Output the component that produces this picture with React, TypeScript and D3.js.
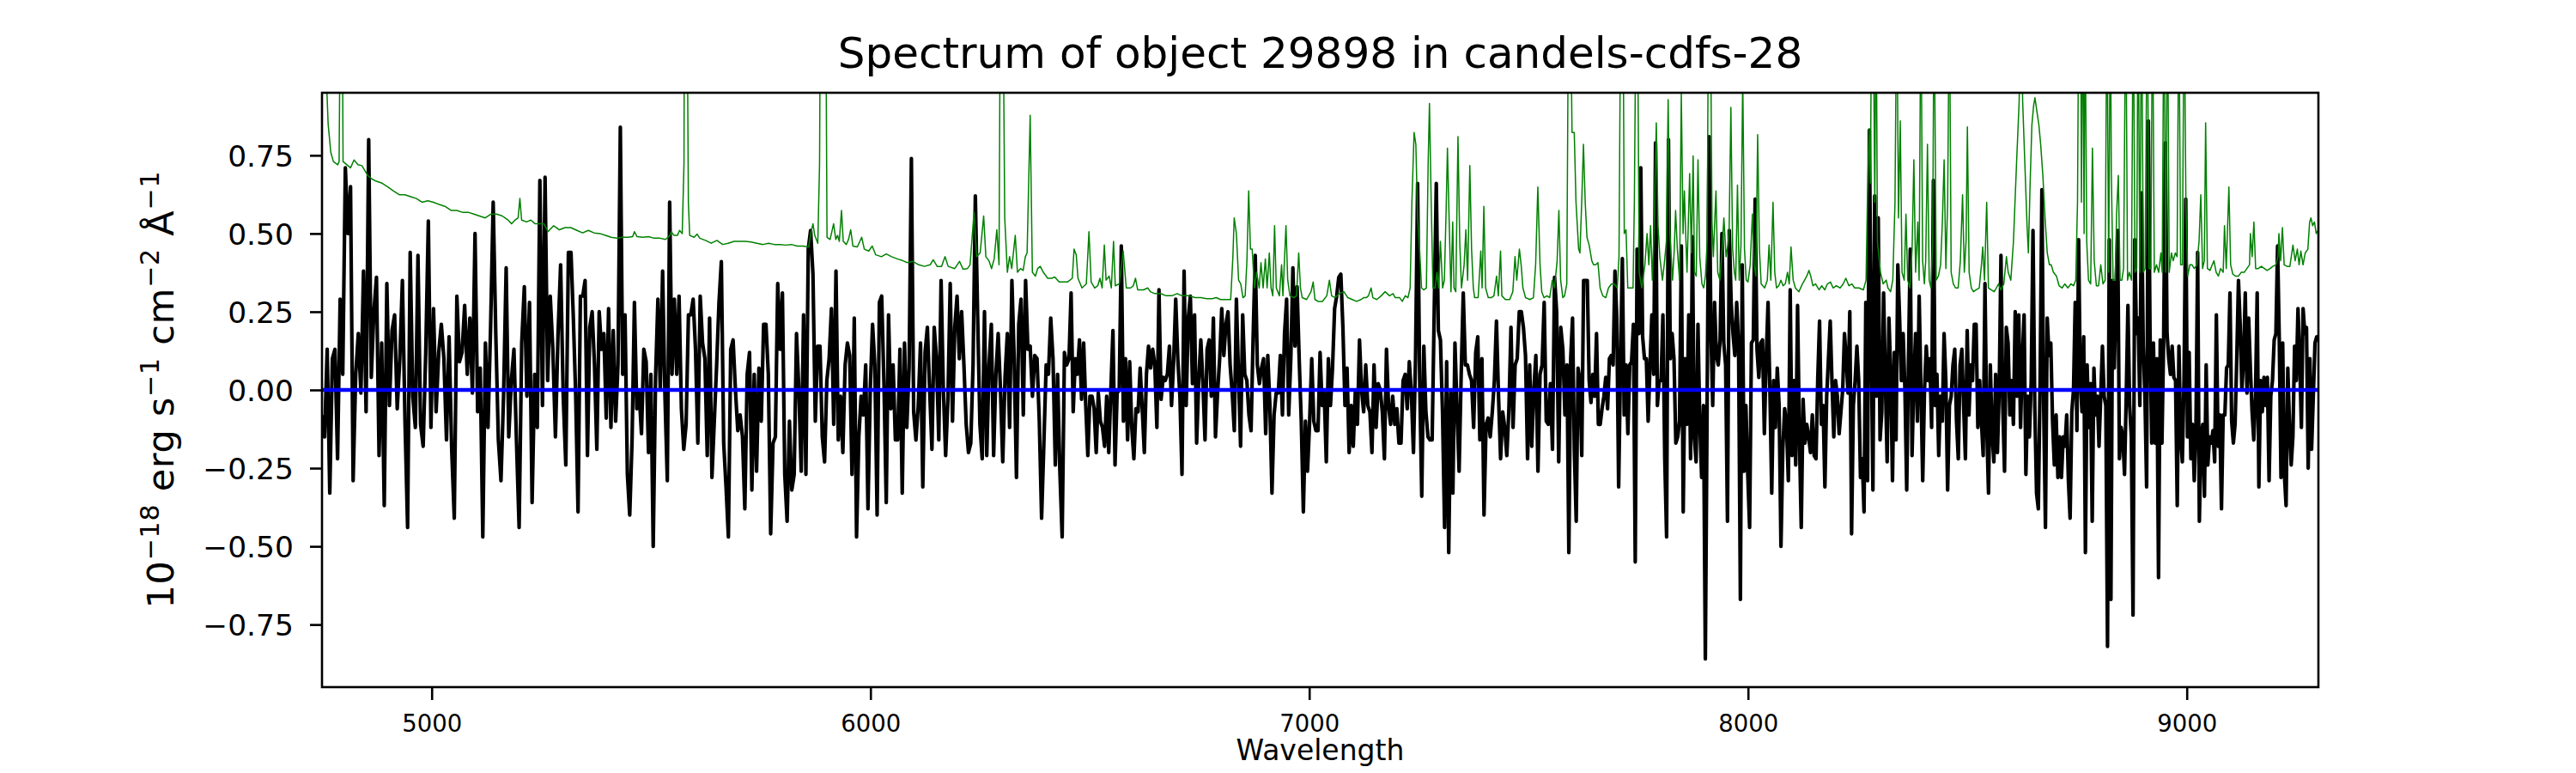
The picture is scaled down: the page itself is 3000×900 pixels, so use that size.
import { useEffect, useRef } from "react";
import * as d3 from "d3";

const TITLE = "Spectrum of object 29898 in candels-cdfs-28";
const X_LABEL = "Wavelength";
const X_TICKS = [5000, 6000, 7000, 8000, 9000];
const Y_TICKS = [-0.75, -0.5, -0.25, 0, 0.25, 0.5, 0.75];
const WAVE_RANGE = [4750, 9300];
const FLUX_RANGE = [-0.95, 0.95];

const SEGMENT_EDGES = [4750, 5317.5, 5885, 6452.5, 7020, 7587.5, 8155, 8722.5, 9300];

const flux1 = [
  -0.08, -0.15, 0.13, -0.33, 0.1, 0.13, -0.22, 0.29, 0.05, 0.71, 0.5, 0.65, -0.29, 0.05, 0.18, -0.01, 0.38, -0.07,
  0.8, 0.04, 0.25, 0.36, -0.21, 0.15, -0.37, 0.34, -0.05, 0.19, 0.24, -0.06, 0.1, 0.35, -0.1, -0.44, 0.44, -0.02,
  -0.12, 0.43, -0.11, -0.18, 0.12, 0.54, -0.12, 0.26, -0.07, 0.12, 0.21, 0.1, -0.16, 0.17, -0.19, -0.41, 0.3, 0.09,
  0.12, 0.27, 0.05, 0.23, -0.01, 0.5, -0.07, 0.07, -0.47, 0.15, -0.12, 0.2, 0.6, 0.18, -0.16, -0.29, -0.02, 0.39,
  -0.15, 0.03, 0.13, -0.17, -0.44, 0.15, 0.33, -0.02, 0.28, -0.36, 0.05, -0.12, 0.67, -0.05, 0.68, 0.03, 0.3, 0.13,
  -0.15, 0.18, 0.4, -0.02, -0.24, 0.44,
];
const flux2 = [
  0.44, 0.23, -0.02, -0.39, 0.3, 0.3, 0.35, -0.21, 0.2, 0.25, 0.08, -0.19, 0.25, 0.13, 0.18, -0.09, 0.26, -0.12,
  0.19, -0.1, 0.08, 0.84, 0.05, 0.24, -0.27, -0.4, -0.16, 0.28, -0.06, -0.01, -0.14, 0.13, 0.09, -0.2, 0.05, -0.5,
  0.04, 0.29, 0.0, 0.38, -0.02, -0.29, 0.6, 0.05, 0.29, 0.05, 0.3, -0.06, -0.19, -0.11, 0.24, 0.24, 0.29, 0.13,
  -0.17, 0.3, 0.15, 0.1, -0.21, 0.23, -0.28, -0.1, 0.08, 0.28, 0.41, -0.17, -0.31, -0.47, 0.13, 0.16, 0.0, -0.13,
  -0.08, -0.15, -0.38, 0.05, 0.12, -0.32, 0.05, -0.26, 0.07, -0.1, 0.21, 0.21, 0.05, -0.46, -0.17, -0.15, 0.34, 0.13,
  0.31, -0.27, -0.42, -0.1, -0.32, -0.27, 0.18, 0.0, -0.26, 0.24, -0.27, 0.45, 0.51, 0.37, -0.1, 0.14,
];
const flux3 = [
  0.14, -0.15, -0.23, 0.03, 0.1, 0.26, -0.11, 0.38, -0.16, -0.02, -0.2, 0.08, 0.15, 0.11, -0.27, 0.23, -0.47, -0.15,
  -0.02, -0.08, 0.08, -0.38, 0.0, 0.21, 0.08, -0.4, 0.28, 0.3, 0.02, -0.36, 0.24, -0.06, 0.08, -0.16, -0.16, 0.13,
  -0.33, 0.15, -0.12, 0.07, 0.74, -0.07, -0.16, -0.05, 0.15, -0.31, 0.12, 0.2, 0.0, -0.19, 0.2, 0.1, -0.16, 0.35,
  0.0, -0.21, -0.03, 0.34, -0.1, 0.2, 0.3, 0.1, 0.25, 0.08, -0.11, -0.2, -0.17, 0.08, 0.62, 0.24, -0.11, -0.22, 0.25,
  -0.21, 0.08, 0.21, -0.21, 0.05, 0.18, 0.0, -0.23, 0.04, 0.18, -0.12, 0.35, 0.1, -0.28, 0.21, 0.29, -0.08, 0.35,
  0.13, 0.14, -0.02, 0.11, 0.1, -0.1, -0.41, -0.17, 0.08, 0.05, 0.23, 0.1, -0.24, 0.05, -0.26, -0.47, 0.12, 0.08,
];
const flux4 = [
  0.1, 0.31, -0.07, 0.1, 0.05, 0.16, -0.03, 0.15, -0.05, -0.21, -0.02, -0.02, -0.06, -0.2, -0.01, -0.1, -0.12, -0.18,
  -0.02, -0.2, 0.0, 0.19, -0.24, -0.01, 0.0, 0.46, -0.1, 0.1, -0.16, 0.09, -0.12, -0.22, -0.06, -0.07, 0.07, -0.06,
  -0.2, 0.05, 0.14, 0.07, 0.13, 0.08, -0.12, 0.32, -0.03, 0.04, 0.03, 0.05, 0.14, -0.05, 0.09, 0.29, 0.1, -0.02,
  -0.27, 0.38, -0.05, 0.23, 0.3, 0.02, 0.24, -0.17, 0.03, 0.16, 0.02, -0.16, 0.13, 0.16, -0.02, 0.23, -0.15, -0.01,
  0.1, 0.26, 0.11, 0.21, 0.25, 0.08, -0.01, -0.13, 0.29, 0.05, -0.18, 0.24, 0.05, 0.03, -0.08, -0.13, 0.17, 0.43,
  0.08, 0.02, 0.07, 0.1, -0.14, 0.11, -0.05, -0.33, -0.08, -0.01, -0.01, 0.11, -0.08, 0.18, 0.29, -0.08, 0.1, 0.39,
  0.14, 0.33, 0.1, -0.1, -0.39, -0.1, -0.26, -0.1, 0.1, -0.1, -0.13,
];
const flux5 = [
  -0.13, 0.12, -0.05, -0.01, -0.23, 0.1, -0.05, 0.07, 0.26, 0.3, 0.36, 0.37, 0.2, -0.05, 0.07, -0.2, -0.05, -0.18,
  0.0, -0.11, 0.16, 0.0, -0.07, 0.08, -0.05, -0.07, -0.2, 0.08, -0.12, 0.02, 0.0, -0.07, -0.22, 0.13, -0.05, -0.11,
  -0.02, -0.11, -0.06, -0.17, -0.17, 0.03, 0.05, -0.06, 0.09, -0.01, -0.2, 0.1, 0.66, 0.03, -0.34, 0.14, -0.07,
  -0.15, -0.16, -0.16, 0.25, 0.66, 0.19, 0.16, -0.07, -0.44, 0.09, -0.52, -0.01, -0.33, 0.15, -0.06, -0.26, 0.05,
  0.31, 0.08, 0.08, 0.05, 0.03, -0.12, 0.12, 0.17, -0.16, 0.1, -0.4, -0.11, -0.09, -0.15, -0.07, 0.03, 0.22, -0.02,
  -0.22, -0.07, -0.12, -0.21, -0.06, 0.2, -0.12, 0.08, 0.1, 0.25, 0.25, 0.2, 0.11, -0.22, 0.08, -0.18, 0.0, 0.11,
  -0.26, 0.05, 0.08, 0.28, -0.1, -0.11, 0.02, -0.19, 0.36, 0.25, -0.23, 0.2, 0.13, -0.08,
];
const flux6 = [
  0.08, -0.52, 0.1, 0.23, -0.2, -0.42, 0.07, 0.03, -0.21, 0.35, 0.35, 0.35, 0.03, -0.04, 0.05, -0.02, 0.18, -0.11,
  -0.11, -0.06, -0.02, 0.04, -0.06, 0.1, 0.11, 0.08, 0.38, 0.23, -0.31, 0.08, 0.42, -0.08, 0.08, -0.14, 0.08, 0.09,
  0.21, -0.55, 0.45, 0.18, 0.71, 0.17, 0.1, 0.1, -0.1, 0.08, 0.24, 0.05, 0.79, -0.05, 0.03, 0.03, 0.24, -0.22, -0.47,
  0.8, 0.1, 0.18, 0.1, -0.17, -0.15, -0.1, 0.46, -0.39, 0.1, -0.11, 0.24, -0.22, 0.49, -0.15, -0.23, 0.21, -0.11,
  -0.28, -0.05, -0.86, -0.02, 0.81, 0.2, -0.05, 0.28, 0.11, 0.08, 0.16, 0.5, 0.15, 0.08, -0.42, 0.51, 0.28, 0.18,
  0.11, 0.28, 0.15, -0.67, 0.4, -0.26, -0.05, -0.27, -0.44, 0.15, 0.16, 0.61, 0.13, 0.04, 0.15, 0.16, -0.14, 0.1,
  0.28, 0.0, -0.33, 0.03, -0.12, 0.07, -0.05, -0.5, -0.19, -0.06, -0.11, -0.29, 0.32, -0.21, 0.03, -0.24, 0.27,
  -0.15, -0.44, -0.03, -0.17, -0.11, -0.15, -0.2, -0.08, -0.21,
];
const flux7 = [
  -0.22, 0.04, 0.22, -0.11, -0.05, -0.31, -0.02, 0.1, 0.22, 0.02, -0.15, 0.03, -0.02, -0.14, -0.07, 0.0, 0.18, 0.1,
  -0.01, 0.25, -0.46, -0.05, 0.03, 0.14, 0.03, -0.28, -0.22, -0.39, 0.28, -0.29, 0.83, 0.19, -0.32, 0.62, -0.02,
  0.55, -0.16, -0.07, 0.31, 0.03, -0.23, 0.23, 0.05, -0.29, 0.12, -0.16, 0.4, 0.23, 0.03, 0.18, 0.0, -0.32, 0.1,
  0.45, -0.21, 0.03, 0.18, -0.1, 0.3, 0.0, -0.29, 0.0, 0.14, 0.03, 0.1, -0.12, 0.67, -0.05, 0.05, -0.21, -0.02, -0.1,
  0.18, 0.03, -0.32, -0.05, -0.02, 0.08, 0.13, -0.1, -0.22, 0.08, 0.13, -0.05, -0.22, 0.19, -0.08, 0.08, 0.03, 0.21,
  0.21, -0.12, 0.03, -0.1, -0.21, 0.34, -0.12, -0.33, 0.08, -0.14, -0.23, 0.05, -0.2, 0.0, 0.43, -0.05, -0.26, 0.2,
  0.15, -0.08, 0.03, -0.11, 0.25, -0.02, 0.24, -0.12, 0.1, 0.24, -0.27, -0.02, -0.15, 0.03, 0.51, -0.05, -0.33,
  -0.38, 0.03, 0.64, -0.05, -0.44, 0.23, 0.11, 0.15, -0.1, -0.24, -0.08, -0.28, -0.15, -0.28, -0.15,
];
const flux8 = [
  -0.18, -0.08, -0.29, -0.41, -0.07, 0.0, 0.28, -0.13, 0.48, 0.03, -0.07, 0.17, -0.52, 0.08, -0.12, 0.02, -0.42,
  0.07, -0.08, -0.02, -0.18, -0.02, 0.14, -0.02, -0.05, -0.82, 0.48, -0.67, 0.35, 0.07, 0.33, 0.51, -0.22, -0.12,
  -0.15, -0.27, -0.02, 0.27, -0.05, -0.15, -0.72, 0.48, 0.18, 0.23, -0.05, 0.63, 0.14, -0.02, -0.31, 0.86, 0.18,
  -0.17, 0.15, -0.17, 0.1, -0.6, 0.16, -0.17, 0.16, 0.79, 0.18, 0.1, 0.05, 0.14, 0.04, 0.03, -0.37, 0.14, -0.15,
  -0.23, 0.04, 0.61, -0.15, 0.12, -0.22, -0.11, -0.29, -0.12, 0.44, -0.42, -0.15, -0.11, -0.34, 0.08, -0.24, -0.15,
  -0.17, -0.13, -0.23, 0.24, -0.18, -0.08, -0.38, -0.08, -0.08, 0.07, 0.08, 0.31, -0.1, -0.17, -0.11, 0.1, 0.35,
  0.21, 0.0, 0.1, 0.31, -0.01, 0.23, 0.07, -0.07, -0.16, -0.02, 0.31, -0.31, 0.03, -0.07, 0.04, -0.05, 0.04, -0.29,
  -0.02, 0.03, 0.16, 0.18, 0.46, 0.16, -0.28, 0.15, -0.27, -0.37, 0.07, -0.11, -0.24, -0.15, 0.14, 0.03, 0.26, 0.1,
  -0.12, 0.26, 0.18, 0.2, -0.25, 0.1, -0.19, -0.02, 0.15, 0.17, 0.17,
];
const FLUX_SEGMENTS = [flux1, flux2, flux3, flux4, flux5, flux6, flux7, flux8];

// noise spectrum: [wavelength, value]; sky lines run off the top
const NOISE: [number, number][] = [
  [4750, 1.3], [4760, 1.0], [4764, 0.85], [4770, 0.76], [4776, 0.73], [4786, 0.72], [4789, 0.73], [4792, 1.3],
  [4796, 1.3], [4798, 0.73], [4809, 0.717], [4815, 0.71], [4823, 0.735], [4832, 0.72], [4841, 0.717], [4854, 0.686],
  [4864, 0.674], [4874, 0.667], [4887, 0.661], [4900, 0.649], [4913, 0.636], [4926, 0.624], [4939, 0.624],
  [4952, 0.618], [4965, 0.612], [4978, 0.6], [4991, 0.605], [5004, 0.6], [5017, 0.593], [5030, 0.587], [5044, 0.574],
  [5057, 0.574], [5070, 0.568], [5083, 0.568], [5096, 0.562], [5109, 0.556], [5122, 0.55], [5135, 0.562],
  [5148, 0.562], [5161, 0.556], [5174, 0.543], [5182, 0.531], [5190, 0.543], [5197, 0.55], [5201, 0.612],
  [5205, 0.543], [5216, 0.537], [5226, 0.543], [5236, 0.531], [5246, 0.531], [5256, 0.531], [5265, 0.506],
  [5278, 0.525], [5291, 0.512], [5304, 0.519],
  [5317, 0.519], [5331, 0.51], [5344, 0.502], [5357, 0.51], [5370, 0.502], [5383, 0.5], [5396, 0.494], [5409, 0.488],
  [5422, 0.485], [5435, 0.488], [5448, 0.488], [5458, 0.49], [5462, 0.506], [5468, 0.49], [5481, 0.488],
  [5494, 0.49], [5507, 0.485], [5520, 0.485], [5533, 0.481], [5543, 0.494], [5546, 0.506], [5552, 0.494],
  [5560, 0.494], [5565, 0.51], [5571, 0.5], [5575, 0.723], [5576, 1.3], [5582, 1.3], [5585, 0.6], [5588, 0.494],
  [5598, 0.488], [5605, 0.498], [5611, 0.485], [5624, 0.478], [5637, 0.469], [5650, 0.478], [5663, 0.465],
  [5676, 0.469], [5689, 0.475], [5702, 0.475], [5715, 0.475], [5728, 0.473], [5741, 0.469], [5755, 0.465],
  [5768, 0.469], [5781, 0.465], [5794, 0.465], [5807, 0.463], [5820, 0.465], [5833, 0.46], [5846, 0.46],
  [5859, 0.457], [5864, 0.5], [5869, 0.531], [5873, 0.494], [5880, 0.469], [5884, 0.723], [5886, 1.3], [5891, 1.3],
  [5898, 1.3], [5901, 0.488], [5908, 0.481], [5916, 0.531], [5921, 0.481], [5925, 0.494], [5929, 0.475],
  [5934, 0.574], [5938, 0.475], [5945, 0.465], [5950, 0.481], [5955, 0.512], [5960, 0.46], [5970, 0.457],
  [5980, 0.488], [5986, 0.45], [5996, 0.444], [6004, 0.46], [6012, 0.432], [6025, 0.426], [6036, 0.435],
  [6048, 0.426], [6061, 0.419], [6074, 0.413], [6084, 0.407], [6097, 0.411], [6110, 0.4], [6123, 0.395], [6136, 0.4],
  [6143, 0.416], [6152, 0.395], [6162, 0.395], [6170, 0.426], [6177, 0.395], [6192, 0.388], [6203, 0.411],
  [6211, 0.386], [6221, 0.388], [6227, 0.4], [6236, 0.568], [6242, 0.426], [6250, 0.438], [6258, 0.556],
  [6263, 0.426], [6270, 0.413], [6276, 0.388], [6282, 0.419], [6288, 0.512], [6293, 0.4], [6296, 1.3], [6302, 1.3],
  [6306, 0.55], [6312, 0.376], [6317, 0.426], [6322, 0.388], [6330, 0.494], [6335, 0.376], [6342, 0.388],
  [6348, 0.382], [6353, 0.426], [6357, 0.438], [6364, 0.878], [6369, 0.376], [6376, 0.364], [6381, 0.388],
  [6387, 0.395], [6394, 0.376], [6404, 0.357], [6413, 0.357], [6420, 0.361], [6430, 0.345], [6439, 0.345],
  [6449, 0.345],
  [6460, 0.357], [6464, 0.45], [6469, 0.432], [6473, 0.357], [6482, 0.326], [6492, 0.339], [6498, 0.506],
  [6503, 0.345], [6511, 0.326], [6518, 0.333], [6523, 0.357], [6528, 0.326], [6533, 0.463], [6537, 0.351],
  [6544, 0.364], [6549, 0.326], [6554, 0.475], [6558, 0.333], [6567, 0.339], [6576, 0.444], [6583, 0.326],
  [6593, 0.326], [6599, 0.333], [6604, 0.357], [6609, 0.32], [6622, 0.32], [6632, 0.326], [6638, 0.314],
  [6648, 0.308], [6661, 0.308], [6674, 0.301], [6687, 0.301], [6699, 0.308], [6710, 0.301], [6726, 0.301],
  [6740, 0.295], [6753, 0.295], [6766, 0.292], [6779, 0.292], [6788, 0.295], [6798, 0.289], [6811, 0.289],
  [6821, 0.289], [6826, 0.426], [6829, 0.55], [6834, 0.5], [6839, 0.351], [6844, 0.339], [6849, 0.295],
  [6854, 0.301], [6858, 0.413], [6862, 0.636], [6866, 0.45], [6870, 0.45], [6875, 0.326], [6880, 0.376],
  [6886, 0.326], [6890, 0.407], [6895, 0.326], [6900, 0.419], [6904, 0.326], [6909, 0.438], [6913, 0.326],
  [6917, 0.301], [6921, 0.525], [6925, 0.326], [6932, 0.301], [6937, 0.4], [6940, 0.301], [6947, 0.525],
  [6951, 0.351], [6956, 0.301], [6965, 0.295], [6971, 0.301], [6976, 0.438], [6980, 0.326], [6984, 0.295],
  [6994, 0.289], [7004, 0.314], [7009, 0.345], [7013, 0.289],
  [7020, 0.283], [7030, 0.283], [7040, 0.301], [7046, 0.351], [7051, 0.301], [7059, 0.295], [7069, 0.308],
  [7079, 0.314], [7088, 0.295], [7098, 0.289], [7108, 0.283], [7118, 0.289], [7124, 0.295], [7130, 0.295],
  [7135, 0.301], [7141, 0.326], [7145, 0.295], [7154, 0.289], [7164, 0.301], [7173, 0.314], [7183, 0.301],
  [7191, 0.308], [7196, 0.295], [7206, 0.295], [7212, 0.283], [7219, 0.301], [7225, 0.295], [7230, 0.326],
  [7234, 0.6], [7239, 0.823], [7243, 0.785], [7247, 0.55], [7252, 0.438], [7256, 0.326], [7261, 0.32], [7267, 0.326],
  [7271, 0.723], [7274, 0.916], [7278, 0.6], [7282, 0.326], [7287, 0.326], [7291, 0.376], [7295, 0.326],
  [7299, 0.475], [7304, 0.326], [7308, 0.351], [7312, 0.574], [7315, 0.773], [7319, 0.537], [7323, 0.314],
  [7327, 0.537], [7330, 0.326], [7334, 0.314], [7339, 0.81], [7343, 0.475], [7347, 0.326], [7353, 0.4],
  [7357, 0.512], [7361, 0.351], [7366, 0.717], [7370, 0.45], [7374, 0.326], [7377, 0.295], [7385, 0.295],
  [7391, 0.444], [7394, 0.326], [7398, 0.587], [7402, 0.326], [7408, 0.295], [7415, 0.295], [7421, 0.301],
  [7427, 0.364], [7431, 0.301], [7436, 0.444], [7439, 0.301], [7447, 0.289], [7457, 0.289], [7464, 0.314],
  [7469, 0.426], [7473, 0.351], [7479, 0.45], [7483, 0.4], [7487, 0.326], [7493, 0.295], [7503, 0.289],
  [7511, 0.295], [7516, 0.4], [7521, 0.649], [7526, 0.4], [7530, 0.314], [7535, 0.295], [7542, 0.301],
  [7548, 0.295], [7554, 0.351], [7559, 0.326], [7565, 0.413], [7569, 0.574], [7573, 0.351], [7578, 0.295],
  [7582, 0.301], [7587, 0.339],
  [7591, 1.3], [7595, 1.3], [7599, 0.823], [7604, 0.823], [7608, 0.6], [7614, 0.45], [7617, 0.438], [7621, 0.6],
  [7625, 0.785], [7629, 0.6], [7633, 0.488], [7638, 0.463], [7644, 0.413], [7648, 0.4], [7653, 0.4], [7658, 0.407],
  [7663, 0.326], [7669, 0.301], [7676, 0.295], [7682, 0.326], [7689, 0.339], [7695, 0.339], [7702, 0.326],
  [7706, 0.426], [7710, 1.3], [7715, 1.3], [7718, 0.5], [7722, 0.512], [7726, 0.326], [7732, 0.326], [7738, 0.326],
  [7741, 0.6], [7745, 1.3], [7748, 1.3], [7752, 0.376], [7758, 0.326], [7765, 0.4], [7770, 0.5], [7774, 0.4],
  [7778, 0.525], [7782, 0.351], [7786, 0.512], [7791, 0.854], [7795, 0.525], [7799, 0.426], [7805, 0.351],
  [7809, 0.4], [7814, 0.475], [7818, 0.928], [7822, 0.5], [7828, 0.351], [7832, 0.45], [7835, 0.574], [7839, 0.45],
  [7844, 0.351], [7848, 0.947], [7852, 0.5], [7855, 0.636], [7858, 0.5], [7861, 0.376], [7867, 0.692], [7871, 0.438],
  [7875, 0.748], [7878, 0.376], [7882, 0.364], [7886, 0.736], [7890, 0.426], [7895, 0.339], [7899, 0.326],
  [7903, 0.364], [7907, 0.475], [7910, 1.3], [7914, 1.3], [7918, 0.537], [7921, 0.426], [7927, 0.636],
  [7931, 0.376], [7936, 0.351], [7941, 0.45], [7945, 0.55], [7950, 0.426], [7954, 0.463], [7957, 0.506],
  [7961, 0.903], [7965, 0.45], [7969, 0.376], [7972, 0.351], [7976, 0.655], [7980, 0.351], [7984, 0.463],
  [7988, 1.0], [7992, 0.45], [7996, 0.351], [8000, 0.345], [8005, 0.4], [8010, 0.562], [8014, 0.4], [8018, 0.364],
  [8022, 0.816], [8026, 0.45], [8030, 0.339], [8038, 0.326], [8044, 0.351], [8048, 0.463], [8052, 0.351],
  [8057, 0.6], [8061, 0.376], [8065, 0.326], [8070, 0.333], [8075, 0.351], [8080, 0.333], [8085, 0.339],
  [8090, 0.376], [8094, 0.339], [8098, 0.457], [8103, 0.351], [8108, 0.326], [8116, 0.314], [8124, 0.339],
  [8129, 0.351], [8134, 0.364], [8139, 0.382], [8143, 0.364], [8148, 0.333], [8154, 0.339],
  [8162, 0.32], [8168, 0.333], [8175, 0.32], [8181, 0.339], [8188, 0.345], [8194, 0.326], [8201, 0.333],
  [8210, 0.326], [8217, 0.339], [8223, 0.357], [8230, 0.333], [8237, 0.339], [8243, 0.326], [8253, 0.326],
  [8263, 0.32], [8269, 0.351], [8272, 0.6], [8276, 0.835], [8279, 0.661], [8282, 1.3], [8285, 1.3], [8289, 0.6],
  [8292, 1.3], [8295, 0.475], [8302, 0.376], [8308, 0.339], [8315, 0.351], [8319, 0.326], [8325, 0.314],
  [8330, 0.351], [8335, 0.6], [8339, 1.3], [8343, 0.55], [8347, 0.86], [8351, 0.376], [8356, 0.351], [8360, 0.562],
  [8364, 0.351], [8369, 0.326], [8374, 0.45], [8378, 0.736], [8382, 0.376], [8387, 0.537], [8390, 0.351],
  [8394, 1.3], [8398, 0.413], [8402, 0.339], [8405, 0.413], [8409, 0.785], [8413, 0.351], [8417, 0.326],
  [8421, 0.475], [8424, 1.3], [8429, 0.351], [8434, 0.364], [8439, 0.4], [8443, 0.537], [8447, 0.736], [8451, 0.388],
  [8455, 0.6], [8459, 1.3], [8463, 0.376], [8468, 0.339], [8473, 0.326], [8479, 0.326], [8484, 0.413], [8489, 0.624],
  [8493, 0.376], [8497, 0.475], [8500, 0.841], [8504, 0.376], [8509, 0.326], [8514, 0.314], [8520, 0.32],
  [8527, 0.326], [8532, 0.4], [8535, 0.457], [8539, 0.351], [8544, 0.6], [8548, 0.326], [8554, 0.32], [8561, 0.314],
  [8566, 0.326], [8571, 0.339], [8576, 0.32], [8583, 0.339], [8589, 0.426], [8593, 0.376], [8599, 0.351],
  [8605, 0.475], [8612, 0.723], [8618, 0.922], [8622, 1.3], [8626, 0.922], [8631, 0.723], [8636, 0.525],
  [8639, 0.438], [8643, 0.661], [8647, 0.847], [8651, 0.909], [8654, 0.934], [8659, 0.885], [8663, 0.847],
  [8667, 0.785], [8672, 0.686], [8677, 0.55], [8682, 0.438], [8687, 0.4], [8691, 0.4], [8696, 0.376], [8703, 0.364],
  [8709, 0.333], [8716, 0.326],
  [8722, 0.339], [8729, 0.326], [8736, 0.339], [8742, 0.333], [8747, 0.351], [8751, 0.6], [8754, 1.3], [8758, 1.3],
  [8760, 0.6], [8763, 1.3], [8766, 0.5], [8768, 1.3], [8772, 0.475], [8776, 0.351], [8781, 0.339], [8785, 0.773],
  [8789, 0.413], [8794, 0.333], [8799, 0.333], [8804, 0.4], [8809, 0.339], [8814, 0.351], [8818, 1.3], [8822, 0.376],
  [8826, 1.3], [8828, 0.698], [8832, 0.351], [8837, 0.351], [8840, 0.562], [8844, 0.686], [8848, 0.351],
  [8852, 0.351], [8856, 0.388], [8861, 1.3], [8865, 0.351], [8869, 0.376], [8874, 0.351], [8878, 1.3], [8882, 0.376],
  [8886, 0.388], [8889, 1.3], [8893, 0.376], [8897, 1.3], [8901, 0.376], [8905, 0.388], [8910, 1.3], [8914, 0.388],
  [8918, 0.388], [8922, 1.3], [8926, 0.376], [8931, 0.4], [8936, 0.376], [8941, 0.438], [8944, 0.376], [8948, 1.3],
  [8952, 0.376], [8956, 1.3], [8960, 0.376], [8965, 0.438], [8969, 0.413], [8974, 0.438], [8978, 0.426],
  [8982, 1.3], [8986, 0.4], [8990, 0.4], [8994, 1.3], [8998, 0.6], [9002, 0.364], [9007, 0.4], [9012, 0.4],
  [9017, 0.388], [9023, 0.4], [9028, 0.475], [9032, 0.624], [9036, 0.388], [9040, 0.413], [9043, 0.854],
  [9047, 0.388], [9053, 0.382], [9058, 0.4], [9062, 0.413], [9067, 0.376], [9072, 0.364], [9077, 0.388],
  [9083, 0.376], [9086, 0.525], [9090, 0.388], [9096, 0.649], [9100, 0.4], [9105, 0.37], [9111, 0.364],
  [9118, 0.364], [9124, 0.376], [9131, 0.376], [9137, 0.388], [9143, 0.4], [9145, 0.5], [9149, 0.426], [9153, 0.537],
  [9157, 0.388], [9163, 0.388], [9170, 0.395], [9177, 0.388], [9183, 0.382], [9190, 0.388], [9196, 0.395],
  [9203, 0.4], [9208, 0.426], [9210, 0.5], [9214, 0.413], [9218, 0.519], [9222, 0.4], [9229, 0.395], [9235, 0.395],
  [9242, 0.463], [9247, 0.413], [9252, 0.45], [9256, 0.4], [9260, 0.444], [9265, 0.4], [9270, 0.438], [9276, 0.45],
  [9280, 0.537], [9283, 0.55], [9287, 0.525], [9291, 0.537], [9295, 0.5], [9300, 0.512],
];

const WIDTH = 3000;
const HEIGHT = 900;
const FONT = "'DejaVu Sans', sans-serif";

const SpectrumChart = () => {
  const svgRef = useRef<SVGSVGElement | null>(null);

  useEffect(() => {
    if (!svgRef.current) return;

    // axes box (figure pixels)
    const margin = { top: 108, right: 300, bottom: 100, left: 375 };
    const left = margin.left;
    const right = WIDTH - margin.right;
    const top = margin.top;
    const bottom = HEIGHT - margin.bottom;

    const svg = d3.select(svgRef.current);
    svg.selectAll("*").remove();

    const xScale = d3.scaleLinear().domain(WAVE_RANGE).range([left, right]);
    const yScale = d3.scaleLinear().domain(FLUX_RANGE).range([bottom, top]);

    // spread each stretch's readings evenly over its wavelengths
    const fluxPoints: [number, number][] = FLUX_SEGMENTS.flatMap((seg, k) => {
      const w0 = SEGMENT_EDGES[k];
      const w1 = SEGMENT_EDGES[k + 1];
      const last = k === FLUX_SEGMENTS.length - 1;
      const n = last ? seg.length - 1 : seg.length;
      return seg.map((v, j) => [w0 + ((w1 - w0) * j) / n, v] as [number, number]);
    });

    svg
      .append("defs")
      .append("clipPath")
      .attr("id", "plot-clip")
      .append("rect")
      .attr("x", left)
      .attr("y", top)
      .attr("width", right - left)
      .attr("height", bottom - top);

    const line = d3
      .line<[number, number]>()
      .x((d) => xScale(d[0]))
      .y((d) => yScale(d[1]));

    const plot = svg.append("g").attr("clip-path", "url(#plot-clip)");

    // 스펙트럼
    plot
      .append("path")
      .datum(fluxPoints)
      .attr("fill", "none")
      .attr("stroke", "#000000")
      .attr("stroke-width", 4.2)
      .attr("stroke-linejoin", "round")
      .attr("d", line as any);

    // noise
    plot
      .append("path")
      .datum(NOISE)
      .attr("fill", "none")
      .attr("stroke", "#008000")
      .attr("stroke-width", 1.5)
      .attr("stroke-linejoin", "round")
      .attr("d", line as any);

    // zero line
    plot
      .append("line")
      .attr("x1", left)
      .attr("x2", right)
      .attr("y1", yScale(0))
      .attr("y2", yScale(0))
      .attr("stroke", "#0000ff")
      .attr("stroke-width", 4.5);

    // X axis
    const xAxis = svg
      .append("g")
      .attr("transform", `translate(0, ${bottom})`)
      .call(d3.axisBottom(xScale).tickValues(X_TICKS).tickSize(15).tickFormat(d3.format("d")));
    xAxis.select(".domain").remove();
    xAxis.selectAll(".tick line").attr("stroke", "#000").attr("stroke-width", 2.6);
    xAxis
      .selectAll(".tick text")
      .attr("y", 52)
      .attr("dy", 0)
      .attr("fill", "#000")
      .style("font-family", FONT)
      .style("font-size", "27.5px");

    // Y axis
    const yAxis = svg
      .append("g")
      .attr("transform", `translate(${left}, 0)`)
      .call(d3.axisLeft(yScale).tickValues(Y_TICKS).tickSize(14).tickFormat(d3.format(".2f")));
    yAxis.select(".domain").remove();
    yAxis.selectAll(".tick line").attr("stroke", "#000").attr("stroke-width", 2.6);
    yAxis
      .selectAll(".tick text")
      .attr("x", -33)
      .attr("dy", "0.364em")
      .attr("fill", "#000")
      .style("font-family", FONT)
      .style("font-size", "34.5px");

    // frame
    svg
      .append("rect")
      .attr("x", left)
      .attr("y", top)
      .attr("width", right - left)
      .attr("height", bottom - top)
      .attr("fill", "none")
      .attr("stroke", "#000")
      .attr("stroke-width", 2.6);

    // title
    svg
      .append("text")
      .attr("x", (left + right) / 2)
      .attr("y", 79)
      .attr("text-anchor", "middle")
      .style("font-family", FONT)
      .style("font-size", "50px")
      .text(TITLE);

    // x label
    svg
      .append("text")
      .attr("x", (left + right) / 2)
      .attr("y", 885)
      .attr("text-anchor", "middle")
      .style("font-family", FONT)
      .style("font-size", "33px")
      .text(X_LABEL);

    // y label with superscripts
    const yLabel = svg
      .append("text")
      .attr("transform", `translate(202, ${(top + bottom) / 2}) rotate(-90)`)
      .attr("text-anchor", "middle")
      .attr("textLength", 509)
      .attr("lengthAdjust", "spacing")
      .style("font-family", FONT)
      .style("font-size", "43px");
    const parts: [string, boolean][] = [
      ["10", false],
      ["\u221218", true],
      [" erg s", false],
      ["\u22121", true],
      [" cm", false],
      ["\u22122", true],
      [" \u00c5", false],
      ["\u22121", true],
    ];
    parts.forEach(([t, sup], i) => {
      const prevSup = i > 0 && parts[i - 1][1];
      yLabel
        .append("tspan")
        .attr("dy", sup ? -17 : prevSup ? 17 : 0)
        .style("font-size", sup ? "30px" : "43px")
        .text(t);
    });
  }, []);

  return (
    <svg
      ref={svgRef}
      width={WIDTH}
      height={HEIGHT}
      style={{ position: "absolute", left: 0, top: 0, background: "#fff" }}
    />
  );
};

export default function App() {
  return <SpectrumChart />;
}
